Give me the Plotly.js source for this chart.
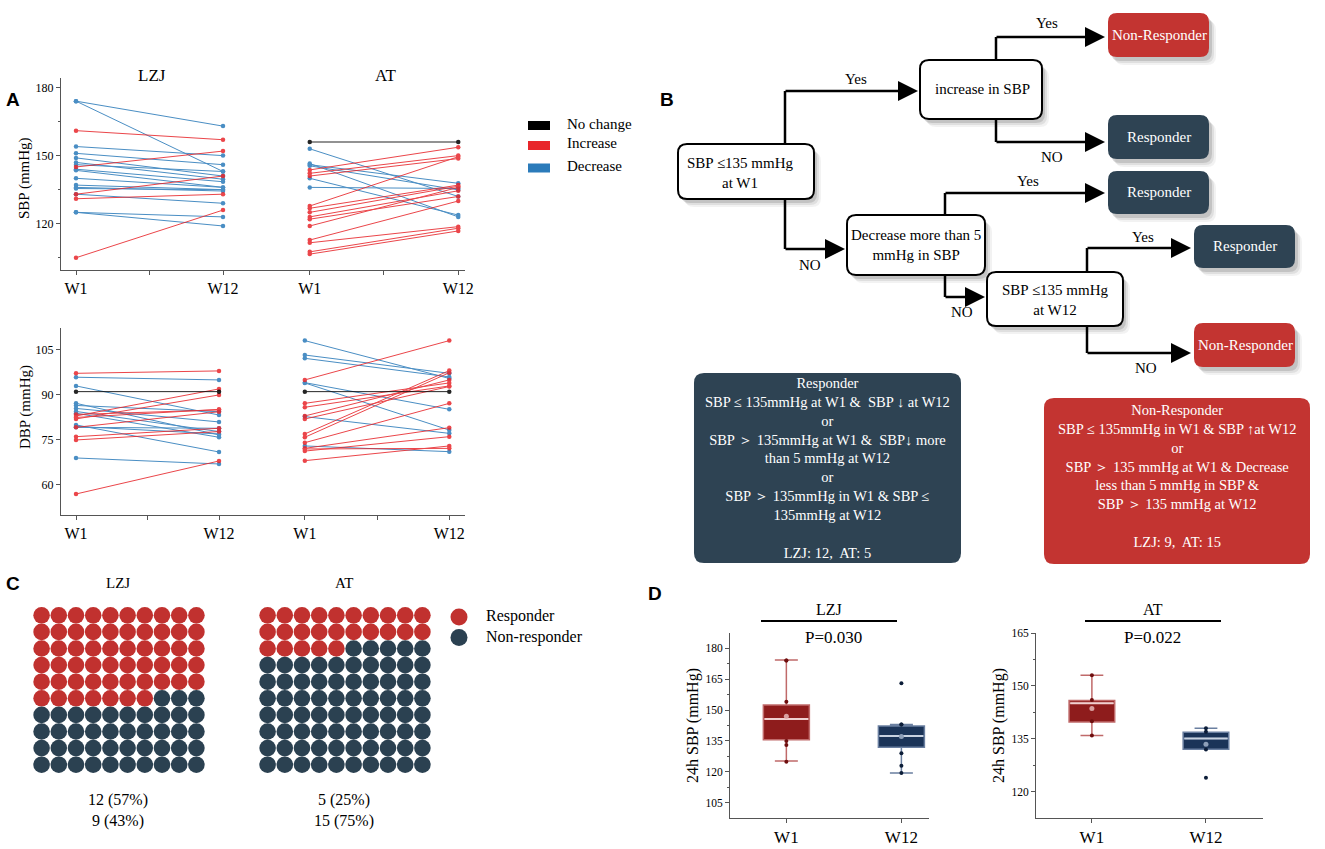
<!DOCTYPE html>
<html><head><meta charset="utf-8">
<script src="https://cdn.plot.ly/plotly-3.0.1.min.js"></script>
<style>html,body{margin:0;padding:0;background:#fff}#chart{width:1325px;height:849px}</style>
</head><body><div id="chart"></div>
<script>
// ================= DATA =================
const timeLabels = ['W1', 'W12'];
const groupNames = ['LZJ', 'AT'];
const changeNames = ['No change', 'Increase', 'Decrease'];

// Panel A – SBP (mmHg), paired W1 -> W12, direction code N / I / D
const lzjSbpW1  = [174, 174, 161, 154, 151, 149, 147, 145, 144, 143.5, 137, 136, 135.5, 133, 131, 133, 125, 125, 105, 140, 146];
const lzjSbpW12 = [163, 143, 157, 150, 146, 141, 139.6, 152, 138.5, 136, 135, 134.4, 135, 141, 133, 129, 123, 119, 126, 136, 143];
const lzjSbpDir = ['D','D','I','D','D','D','D','I','D','D','D','D','D','I','I','D','D','D','I','D','D'];

const atSbpW1  = [156, 153, 146, 145.5, 140, 136, 146.5, 143.7, 142.2, 141, 127.8, 126.8, 125, 123, 122, 119, 112.8, 111.6, 107.6, 106.6];
const atSbpW12 = [156, 132, 137.8, 134.9, 123.8, 135.5, 123, 153.7, 150, 148.7, 149.5, 137, 136.5, 134.5, 132, 136, 130, 118.7, 118, 116.8];
const atSbpDir = ['N','D','D','D','D','D','D','I','I','I','I','I','I','I','I','I','I','I','I','I'];

// Panel A – DBP (mmHg)
const lzjDbpW1  = [97.2, 95.9, 93, 91.1, 87.2, 86.5, 85.5, 84.5, 83.9, 83, 82, 82.5, 80, 79.2, 79.5, 79.2, 76.1, 75, 69, 57, 83.5];
const lzjDbpW12 = [98, 95, 83.3, 91.1, 76.7, 84.4, 81, 77.8, 75.9, 92, 90, 85.2, 71, 78.9, 77, 84.4, 78.9, 77.8, 67, 68, 85];
const lzjDbpDir = ['I','D','D','N','D','D','D','D','D','I','I','I','D','D','D','I','I','I','D','I','I'];

const atDbpW1  = [108.1, 103.3, 102.2, 95, 94.1, 94, 91.1, 87.2, 85.9, 83, 82, 82.8, 77, 75.9, 74.1, 73, 72.2, 71.3, 68.1, 72];
const atDbpW12 = [95.5, 97.2, 96, 108.1, 85.2, 78.3, 91.1, 94, 93, 95, 92.8, 77.2, 98.1, 97.4, 87.2, 71.1, 79.1, 76.1, 73, 72.2];
const atDbpDir = ['D','D','D','I','D','D','N','I','I','I','I','D','I','I','I','D','I','I','I','I'];

// Panel C – responder counts
const responderN    = [12, 5];
const nonResponderN = [9, 15];
const responderPct  = [57, 25];
const nonResponderPct = [43, 75];

// Panel D – 24h SBP box statistics [W1, W12]
const lzjQ1 = [135.6, 132.0], lzjMedian = [145.6, 137.4], lzjQ3 = [152.4, 142.3];
const lzjLow = [125.3, 119.5], lzjHigh = [174.2, 143.0], lzjMean = [147.0, 137.2];
const lzjPtsW1  = [174, 174, 154, 135, 133, 125];
const lzjPtsW12 = [163, 143, 143, 129, 123, 119.5];
const atQ1 = [139.8, 132.1], atMedian = [145.1, 135.1], atQ3 = [145.9, 136.9];
const atLow = [136.0, 132.1], atHigh = [153.0, 138.0], atMean = [143.6, 133.5];
const atPtsW1  = [153, 146, 140, 136];
const atPtsW12 = [138, 137, 132, 124];
const pValues = ['P=0.030', 'P=0.022'];

// ================= HELPERS =================
const W = 1325, H = 849;
const px = v => v / W;
const py = v => 1 - v / H;
const serif = 'Liberation Serif, Times New Roman, serif';
const sans = 'Liberation Sans, Arial, sans-serif';
const colDir = {N: '#000000', I: '#e8262b', D: '#2b7bba'};
const cRed = '#c1312f', cDark = '#2b4151';
const boxRed = '#c33431', boxDark = '#2e4353';

const traces = [];

function pairTraces(w1, w12, dir, xPos, xa, ya) {
  ['D', 'I', 'N'].forEach(k => {
    const xs = [], ys = [];
    w1.forEach((v, i) => {
      if (dir[i] === k) { xs.push(xPos[0], xPos[1], null); ys.push(v, w12[i], null); }
    });
    if (xs.length) traces.push({
      type: 'scatter', mode: 'lines+markers', x: xs, y: ys, xaxis: xa, yaxis: ya,
      line: {color: colDir[k], width: 1}, marker: {color: colDir[k], size: 4.5},
      opacity: 0.85, showlegend: false, hoverinfo: 'skip', connectgaps: false
    });
  });
}
pairTraces(lzjSbpW1, lzjSbpW12, lzjSbpDir, [0, 1], 'x', 'y');
pairTraces(atSbpW1, atSbpW12, atSbpDir, [1.59, 2.6], 'x', 'y');
pairTraces(lzjDbpW1, lzjDbpW12, lzjDbpDir, [0, 1], 'x2', 'y2');
pairTraces(atDbpW1, atDbpW12, atDbpDir, [1.6, 2.61], 'x2', 'y2');

// Waffles
function waffle(pct, xa, ya) {
  const rx = [], ry = [], nx = [], ny = [];
  for (let k = 0; k < 100; k++) {
    const r = Math.floor(k / 10), c = k % 10;
    if (k < pct) { rx.push(c); ry.push(r); } else { nx.push(c); ny.push(r); }
  }
  traces.push({type: 'scatter', mode: 'markers', x: rx, y: ry, xaxis: xa, yaxis: ya,
    marker: {color: cRed, size: 16.6, line: {width: 0}}, showlegend: false, hoverinfo: 'skip'});
  traces.push({type: 'scatter', mode: 'markers', x: nx, y: ny, xaxis: xa, yaxis: ya,
    marker: {color: cDark, size: 16.6, line: {width: 0}}, showlegend: false, hoverinfo: 'skip'});
}
waffle(responderPct[0], 'x3', 'y3');
waffle(responderPct[1], 'x4', 'y4');

// Box plots
const boxFill = ['#8e1c1c', '#1b3458'];
const boxLine = ['#c06a6a', '#6a7fa0'];
const medCol = ['#f0d0d0', '#c8d2e0'];
const ptCol = ['#6e0e0e', '#0c1d38'];
const meanCol = ['#d9a0a0', '#8e9fb8'];
function boxes(q1, med, q3, lo, hi, mean, pts, xa, ya) {
  for (let i = 0; i < 2; i++) {
    traces.push({type: 'box', x: [i], q1: [q1[i]], median: [med[i]], q3: [q3[i]],
      lowerfence: [lo[i]], upperfence: [hi[i]], width: 0.4, whiskerwidth: 0.5,
      fillcolor: boxFill[i], line: {color: boxLine[i], width: 1.5}, boxpoints: false,
      xaxis: xa, yaxis: ya, showlegend: false, hoverinfo: 'skip'});
    traces.push({type: 'scatter', mode: 'lines', x: [i - 0.19, i + 0.19], y: [med[i], med[i]],
      line: {color: medCol[i], width: 2}, xaxis: xa, yaxis: ya, showlegend: false, hoverinfo: 'skip'});
    traces.push({type: 'scatter', mode: 'markers', x: pts[i].map(() => i), y: pts[i],
      marker: {color: ptCol[i], size: 4}, xaxis: xa, yaxis: ya, showlegend: false, hoverinfo: 'skip'});
    traces.push({type: 'scatter', mode: 'markers', x: [i], y: [mean[i]],
      marker: {color: meanCol[i], size: 5}, xaxis: xa, yaxis: ya, showlegend: false, hoverinfo: 'skip'});
  }
}
boxes(lzjQ1, lzjMedian, lzjQ3, lzjLow, lzjHigh, lzjMean, [lzjPtsW1, lzjPtsW12], 'x5', 'y5');
boxes(atQ1, atMedian, atQ3, atLow, atHigh, atMean, [atPtsW1, atPtsW12], 'x6', 'y6');

// ================= SHAPES / ANNOTATIONS =================
const shapes = [], annotations = [];
function txt(x, y, text, opt = {}) {
  const a = {xref: 'paper', yref: 'paper', x: px(x), y: py(y), text: text, showarrow: false,
    xanchor: 'center', yanchor: 'middle', font: {family: serif, size: 15, color: '#000'}};
  annotations.push(Object.assign(a, opt));
}
function rr(x0, y0, x1, y1, r) {
  const X = v => px(v).toFixed(5), Y = v => py(v).toFixed(5);
  return `M${X(x0 + r)},${Y(y0)} L${X(x1 - r)},${Y(y0)} Q${X(x1)},${Y(y0)} ${X(x1)},${Y(y0 + r)} ` +
    `L${X(x1)},${Y(y1 - r)} Q${X(x1)},${Y(y1)} ${X(x1 - r)},${Y(y1)} L${X(x0 + r)},${Y(y1)} ` +
    `Q${X(x0)},${Y(y1)} ${X(x0)},${Y(y1 - r)} L${X(x0)},${Y(y0 + r)} Q${X(x0)},${Y(y0)} ${X(x0 + r)},${Y(y0)} Z`;
}
function rbox(x0, y0, x1, y1, fill, border, shadow, r = 9) {
  if (shadow) {
    [[7, 0.05], [5, 0.08], [3, 0.12]].forEach(([o, a]) => {
      shapes.push({type: 'path', xref: 'paper', yref: 'paper', path: rr(x0 + o, y0 + o + 1, x1 + o, y1 + o + 1, r),
        fillcolor: `rgba(0,0,0,${a})`, line: {width: 0}});
    });
  }
  shapes.push({type: 'path', xref: 'paper', yref: 'paper', path: rr(x0, y0, x1, y1, r),
    fillcolor: fill, line: border ? {color: '#000', width: 2} : {width: 0}});
}
function connector(x, yStart, yCorner, xTip) {
  shapes.push({type: 'line', xref: 'paper', yref: 'paper', x0: px(x), y0: py(yStart), x1: px(x), y1: py(yCorner),
    line: {color: '#000', width: 2.5}});
  annotations.push({xref: 'paper', yref: 'paper', x: px(xTip), y: py(yCorner), ax: -(xTip - x + 1), ay: 0,
    text: '', showarrow: true, arrowhead: 2, arrowsize: 1.6, arrowwidth: 2.5, arrowcolor: '#000', standoff: 0});
}

// Panel letters
txt(13, 100, '<b>A</b>', {font: {family: sans, size: 19, color: '#000'}});
txt(667, 100, '<b>B</b>', {font: {family: sans, size: 19, color: '#000'}});
txt(13, 583, '<b>C</b>', {font: {family: sans, size: 19, color: '#000'}});
txt(655, 593, '<b>D</b>', {font: {family: sans, size: 19, color: '#000'}});

// Panel A texts
txt(152, 76, groupNames[0], {font: {family: serif, size: 17, color: '#000'}});
txt(385, 76, groupNames[1], {font: {family: serif, size: 17, color: '#000'}});
txt(25, 178, 'SBP (mmHg)', {textangle: -90, font: {family: serif, size: 15, color: '#000'}});
txt(25, 407, 'DBP (mmHg)', {textangle: -90, font: {family: serif, size: 15, color: '#000'}});
// Panel A legend
const legCols = [colDir.N, colDir.I, colDir.D];
const legY = [125.5, 145.5, 168];
changeNames.forEach((n, i) => {
  shapes.push({type: 'rect', xref: 'paper', yref: 'paper', x0: px(528), x1: px(550), y0: py(legY[i] - 4.5), y1: py(legY[i] + 4.5),
    fillcolor: legCols[i], line: {width: 0}});
  txt(565, legY[i] - 2, n, {xanchor: 'left', font: {family: serif, size: 15, color: '#000'}});
});

// Panel B flowchart
rbox(678, 144, 814, 199, '#ffffff', true, true);
rbox(920, 60, 1042, 119, '#ffffff', true, true);
rbox(847, 215, 985, 275, '#ffffff', true, true);
rbox(987, 272, 1123, 326, '#ffffff', true, true);
rbox(1108, 13, 1209, 57, boxRed, false, true);
rbox(1108, 115, 1209, 159, boxDark, false, true);
rbox(1108, 171, 1209, 214, boxDark, false, true);
rbox(1194, 225, 1295, 268, boxDark, false, true);
rbox(1194, 323, 1295, 367, boxRed, false, true);
txt(740, 173, 'SBP ≤135 mmHg<br>at W1');
txt(982, 89, 'increase in SBP');
txt(916, 245, 'Decrease more than 5<br>mmHg in SBP');
txt(1055, 300, 'SBP ≤135 mmHg<br>at W12');
txt(1159, 35, 'Non-Responder', {font: {family: serif, size: 15, color: '#fff'}});
txt(1159, 137, 'Responder', {font: {family: serif, size: 15, color: '#fff'}});
txt(1159, 192, 'Responder', {font: {family: serif, size: 15, color: '#fff'}});
txt(1245, 246, 'Responder', {font: {family: serif, size: 15, color: '#fff'}});
txt(1245, 345, 'Non-Responder', {font: {family: serif, size: 15, color: '#fff'}});
connector(785, 144, 91, 918);
connector(996, 60, 37, 1105);
connector(996, 119, 142, 1105);
connector(785, 199, 249, 845);
connector(945, 215, 193, 1105);
connector(945, 275, 297, 985);
connector(1087, 272, 248, 1191);
connector(1087, 326, 353, 1191);
txt(856, 79, 'Yes'); txt(1047, 23, 'Yes'); txt(1052, 157, 'NO'); txt(810, 265, 'NO');
txt(1028, 181, 'Yes'); txt(962, 312, 'NO'); txt(1143, 237, 'Yes'); txt(1146, 368, 'NO');

// Criteria boxes
rbox(694, 373, 961, 563, boxDark, false, false, 10);
rbox(1044, 398, 1310, 564, boxRed, false, false, 10);
txt(827, 468,
  'Responder<br>SBP ≤ 135mmHg at W1 &  SBP ↓ at W12<br>or<br>SBP ＞ 135mmHg at W1 &  SBP↓ more<br>than 5 mmHg at W12<br>or<br>SBP ＞ 135mmHg in W1 & SBP ≤<br>135mmHg at W12<br> <br>LZJ: ' +
  responderN[0] + ',  AT: ' + responderN[1],
  {font: {family: serif, size: 14.5, color: '#fff'}});
txt(1177, 475.5,
  'Non-Responder<br>SBP ≤ 135mmHg in W1 & SBP ↑at W12<br>or<br>SBP ＞ 135 mmHg at W1 & Decrease<br>less than 5 mmHg in SBP &<br>SBP ＞ 135 mmHg at W12<br> <br>LZJ: ' +
  nonResponderN[0] + ',  AT: ' + nonResponderN[1],
  {font: {family: serif, size: 14.5, color: '#fff'}});

// Panel C texts
txt(118, 583, groupNames[0]);
txt(344, 583, groupNames[1]);
txt(118, 800, responderN[0] + ' (' + responderPct[0] + '%)', {font: {family: serif, size: 16, color: '#000'}});
txt(118, 821, nonResponderN[0] + ' (' + nonResponderPct[0] + '%)', {font: {family: serif, size: 16, color: '#000'}});
txt(344, 800, responderN[1] + ' (' + responderPct[1] + '%)', {font: {family: serif, size: 16, color: '#000'}});
txt(344, 821, nonResponderN[1] + ' (' + nonResponderPct[1] + '%)', {font: {family: serif, size: 16, color: '#000'}});
shapes.push({type: 'circle', xref: 'paper', yref: 'paper', x0: px(450.5), x1: px(467.5), y0: py(608.5), y1: py(625.5), fillcolor: cRed, line: {width: 0}});
shapes.push({type: 'circle', xref: 'paper', yref: 'paper', x0: px(450.5), x1: px(467.5), y0: py(629), y1: py(646), fillcolor: cDark, line: {width: 0}});
txt(484, 616, 'Responder', {xanchor: 'left', font: {family: serif, size: 16, color: '#000'}});
txt(484, 637, 'Non-responder', {xanchor: 'left', font: {family: serif, size: 16, color: '#000'}});

// Panel D texts
txt(829, 609, groupNames[0], {font: {family: serif, size: 16, color: '#000'}});
txt(1153, 609, groupNames[1], {font: {family: serif, size: 16, color: '#000'}});
shapes.push({type: 'line', xref: 'paper', yref: 'paper', x0: px(761), x1: px(897), y0: py(621), y1: py(621), line: {color: '#000', width: 2}});
shapes.push({type: 'line', xref: 'paper', yref: 'paper', x0: px(1085), x1: px(1221), y0: py(621), y1: py(621), line: {color: '#000', width: 2}});
txt(833, 637, pValues[0], {font: {family: serif, size: 17, color: '#000'}});
txt(1152, 637, pValues[1], {font: {family: serif, size: 17, color: '#000'}});
txt(693, 726, '24h SBP (mmHg)', {textangle: -90, font: {family: serif, size: 16, color: '#000'}});
txt(999, 726, '24h SBP (mmHg)', {textangle: -90, font: {family: serif, size: 16, color: '#000'}});

// ================= LAYOUT =================
const ax = {showgrid: false, zeroline: false, showline: true, linecolor: '#555', linewidth: 1,
  ticks: 'outside', tickcolor: '#555', ticklen: 4, fixedrange: true,
  tickfont: {family: serif, size: 12, color: '#000'}};
const hidden = {visible: false, showgrid: false, zeroline: false, fixedrange: true};

const layout = {
  width: W, height: H, margin: {l: 0, r: 0, t: 0, b: 0},
  paper_bgcolor: '#fff', plot_bgcolor: 'rgba(0,0,0,0)', showlegend: false,
  xaxis: Object.assign({}, ax, {domain: [px(61), px(465)], range: [-0.102, 2.646], anchor: 'y',
    tickmode: 'array', tickvals: [0, 0.5, 1, 1.59, 2.095, 2.6], ticktext: ['W1', '', 'W12', 'W1', '', 'W12'],
    tickfont: {family: serif, size: 16, color: '#000'}}),
  yaxis: Object.assign({}, ax, {domain: [py(270), py(78)], range: [99.6, 184.2], anchor: 'x',
    tickmode: 'linear', tick0: 120, dtick: 30, minor: {dtick: 15, ticks: 'outside', ticklen: 2, tickcolor: '#555'}}),
  xaxis2: Object.assign({}, ax, {domain: [px(61), px(465)], range: [-0.105, 2.72], anchor: 'y2',
    tickmode: 'array', tickvals: [0, 0.5, 1, 1.6, 2.105, 2.61], ticktext: ['W1', '', 'W12', 'W1', '', 'W12'],
    tickfont: {family: serif, size: 16, color: '#000'}}),
  yaxis2: Object.assign({}, ax, {domain: [py(515), py(328)], range: [50, 112.3], anchor: 'x2',
    tickmode: 'linear', tick0: 60, dtick: 15}),
  xaxis3: Object.assign({}, hidden, {domain: [px(33), px(205)], range: [-0.5, 9.5], anchor: 'y3'}),
  yaxis3: Object.assign({}, hidden, {domain: [py(773), py(607)], range: [9.5, -0.5], anchor: 'x3'}),
  xaxis4: Object.assign({}, hidden, {domain: [px(259), px(431)], range: [-0.5, 9.5], anchor: 'y4'}),
  yaxis4: Object.assign({}, hidden, {domain: [py(773), py(607)], range: [9.5, -0.5], anchor: 'x4'}),
  xaxis5: Object.assign({}, ax, {domain: [px(730), px(929)], range: [-0.49, 1.24], anchor: 'y5',
    tickmode: 'array', tickvals: [0, 1], ticktext: timeLabels, tickfont: {family: serif, size: 17, color: '#000'}}),
  yaxis5: Object.assign({}, ax, {domain: [py(818), py(633)], range: [97.7, 187.3], anchor: 'x5',
    tickmode: 'linear', tick0: 105, dtick: 15, tickfont: {family: serif, size: 11.5, color: '#000'},
    minor: {dtick: 7.5, ticks: 'outside', ticklen: 2, tickcolor: '#555'}}),
  xaxis6: Object.assign({}, ax, {domain: [px(1036), px(1263)], range: [-0.49, 1.5], anchor: 'y6',
    tickmode: 'array', tickvals: [0, 1], ticktext: timeLabels, tickfont: {family: serif, size: 17, color: '#000'}}),
  yaxis6: Object.assign({}, ax, {domain: [py(818), py(633)], range: [112.6, 165], anchor: 'x6',
    tickmode: 'linear', tick0: 120, dtick: 15, tickfont: {family: serif, size: 11.5, color: '#000'},
    minor: {dtick: 7.5, ticks: 'outside', ticklen: 2, tickcolor: '#555'}}),
  shapes: shapes,
  annotations: annotations
};

Plotly.newPlot('chart', traces, layout, {staticPlot: true, displayModeBar: false});
</script>
</body></html>
